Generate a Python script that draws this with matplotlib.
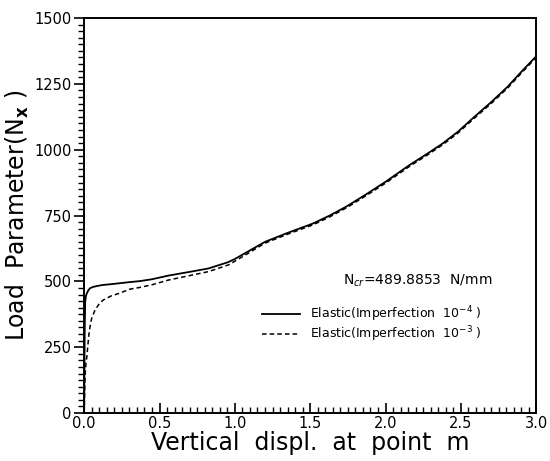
import matplotlib.pyplot as plt
from matplotlib.ticker import MultipleLocator

# values
x_solid = [0.0, 0.002, 0.004, 0.007, 0.012, 0.018, 0.028, 0.039, 0.06, 0.083, 0.12, 0.19,
           0.30, 0.37, 0.45, 0.56, 0.70, 0.825, 0.956, 1.0, 1.065, 1.2, 1.35, 1.52,
           1.63, 1.74, 1.87, 2.0, 2.16, 2.27, 2.38, 2.48, 2.59, 2.7, 2.81, 2.9, 3.0]
y_solid = [0, 180, 330, 423, 445, 455, 466, 474, 479, 482, 486, 490,
           497, 501, 508, 522, 536, 549, 573, 585, 606, 650, 684, 720,
           750, 784, 830, 878, 942, 982, 1024, 1068, 1125, 1180, 1239, 1295, 1355]

x_dash = [0.0, 0.004, 0.008, 0.013, 0.018, 0.025, 0.032, 0.039, 0.05, 0.072, 0.1, 0.126,
          0.18, 0.236, 0.30, 0.37, 0.45, 0.56, 0.70, 0.825, 0.96, 1.04, 1.2, 1.35, 1.52,
          1.63, 1.74, 1.87, 2.0, 2.16, 2.27, 2.38, 2.48, 2.59, 2.7, 2.81, 2.9, 3.0]
y_dash = [0, 100, 160, 195, 214, 260, 300, 328, 360, 391, 415, 429,
          445, 455, 470, 477, 487, 505, 522, 537, 563, 590, 645, 679, 715,
          745, 779, 825, 873, 937, 977, 1019, 1063, 1120, 1175, 1234, 1290, 1350]

fig = plt.figure(figsize=(5.5, 4.61), dpi=100)
ax = fig.add_axes([0.153, 0.104, 0.822, 0.857])

ax.plot(x_solid, y_solid, color="black", lw=1.3,
        label=r"Elastic(Imperfection  10$^{-4}$ )")
ax.plot(x_dash, y_dash, color="black", lw=1.1, linestyle=(0, (3, 2)),
        label=r"Elastic(Imperfection  10$^{-3}$ )")

ax.set_xlim(0, 3.0)
ax.set_ylim(0, 1500)
ax.set_xticks([0.0, 0.5, 1.0, 1.5, 2.0, 2.5, 3.0])
ax.set_yticks([0, 250, 500, 750, 1000, 1250, 1500])
ax.xaxis.set_minor_locator(MultipleLocator(0.05))
ax.yaxis.set_minor_locator(MultipleLocator(25))
ax.tick_params(axis="x", which="both", direction="in", labelsize=10.5, pad=2)
ax.tick_params(axis="x", which="major", length=7, width=1.2)
ax.tick_params(axis="x", which="minor", length=4, width=1)
ax.tick_params(axis="y", which="both", direction="out", labelsize=10.5, pad=2)
ax.tick_params(axis="y", which="major", length=7, width=1.2)
ax.tick_params(axis="y", which="minor", length=4, width=1)
for s in ax.spines.values():
    s.set_linewidth(1.4)

ax.set_xlabel("Vertical  displ.  at  point  m", fontsize=17, labelpad=0)
ax.set_ylabel(r"Load  Parameter(N$_{\mathbf{x}}$ )", fontsize=17, labelpad=2)

ax.text(1.72, 501, r"N$_{cr}$=489.8853  N/mm", fontsize=10, va="center")

ax.legend(loc="upper left", bbox_to_anchor=(0.38, 0.29), frameon=False,
          fontsize=9, handlelength=3.0, labelspacing=0.0, borderpad=0,
          handletextpad=0.8)

fig.savefig("out.png", dpi=100)
